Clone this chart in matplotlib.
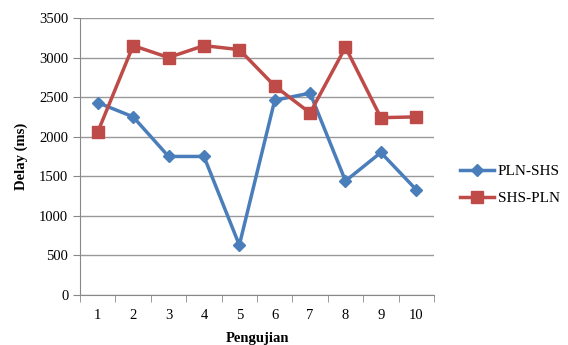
import matplotlib.pyplot as plt
import numpy as np

# data
pengujian = ["1", "2", "3", "4", "5", "6", "7", "8", "9", "10"]
pln_shs = [2430, 2250, 1750, 1750, 630, 2460, 2550, 1440, 1800, 1330]
shs_pln = [2060, 3150, 3000, 3150, 3100, 2640, 2300, 3130, 2240, 2250]

plt.rcParams['font.family'] = ['Liberation Serif', 'DejaVu Serif']

fig = plt.figure(figsize=(5.68, 3.45), dpi=100)
ax = fig.add_axes([0.141, 0.145, 0.623, 0.803])

x = np.arange(len(pengujian))
ax.plot(x, pln_shs, color="#4A7EBB", lw=2.5, marker="D", ms=6.5, label="PLN-SHS")
ax.plot(x, shs_pln, color="#BE4B48", lw=2.5, marker="s", ms=8, label="SHS-PLN")

ax.set_xlim(-0.5, len(pengujian) - 0.5)
ax.set_ylim(0, 3500)
ax.set_yticks(np.arange(0, 3501, 500))
ax.set_xticks(x)
ax.set_xticklabels(pengujian)
ax.set_xticks(np.arange(-0.5, len(pengujian)), minor=True)
ax.tick_params(axis="x", which="major", length=0, pad=10, labelsize=10.5)
ax.tick_params(axis="x", which="minor", length=5, color="#888888")
ax.tick_params(axis="y", length=5, color="#888888", labelsize=10.5)

ax.grid(axis="y", color="#999999", lw=1)
ax.set_axisbelow(True)
for s in ["top", "right"]:
    ax.spines[s].set_visible(False)
for s in ["left", "bottom"]:
    ax.spines[s].set_color("#888888")

ax.set_xlabel("Pengujian", fontweight="bold", fontsize=10.5, labelpad=7)
ax.set_ylabel("Delay (ms)", fontweight="bold", fontsize=10.5, labelpad=8)

ax.legend(loc="center left", bbox_to_anchor=(1.035, 0.397), frameon=False,
          fontsize=11, handlelength=2.2, handletextpad=0.25, labelspacing=0.85)

fig.savefig("out.png", dpi=100)
